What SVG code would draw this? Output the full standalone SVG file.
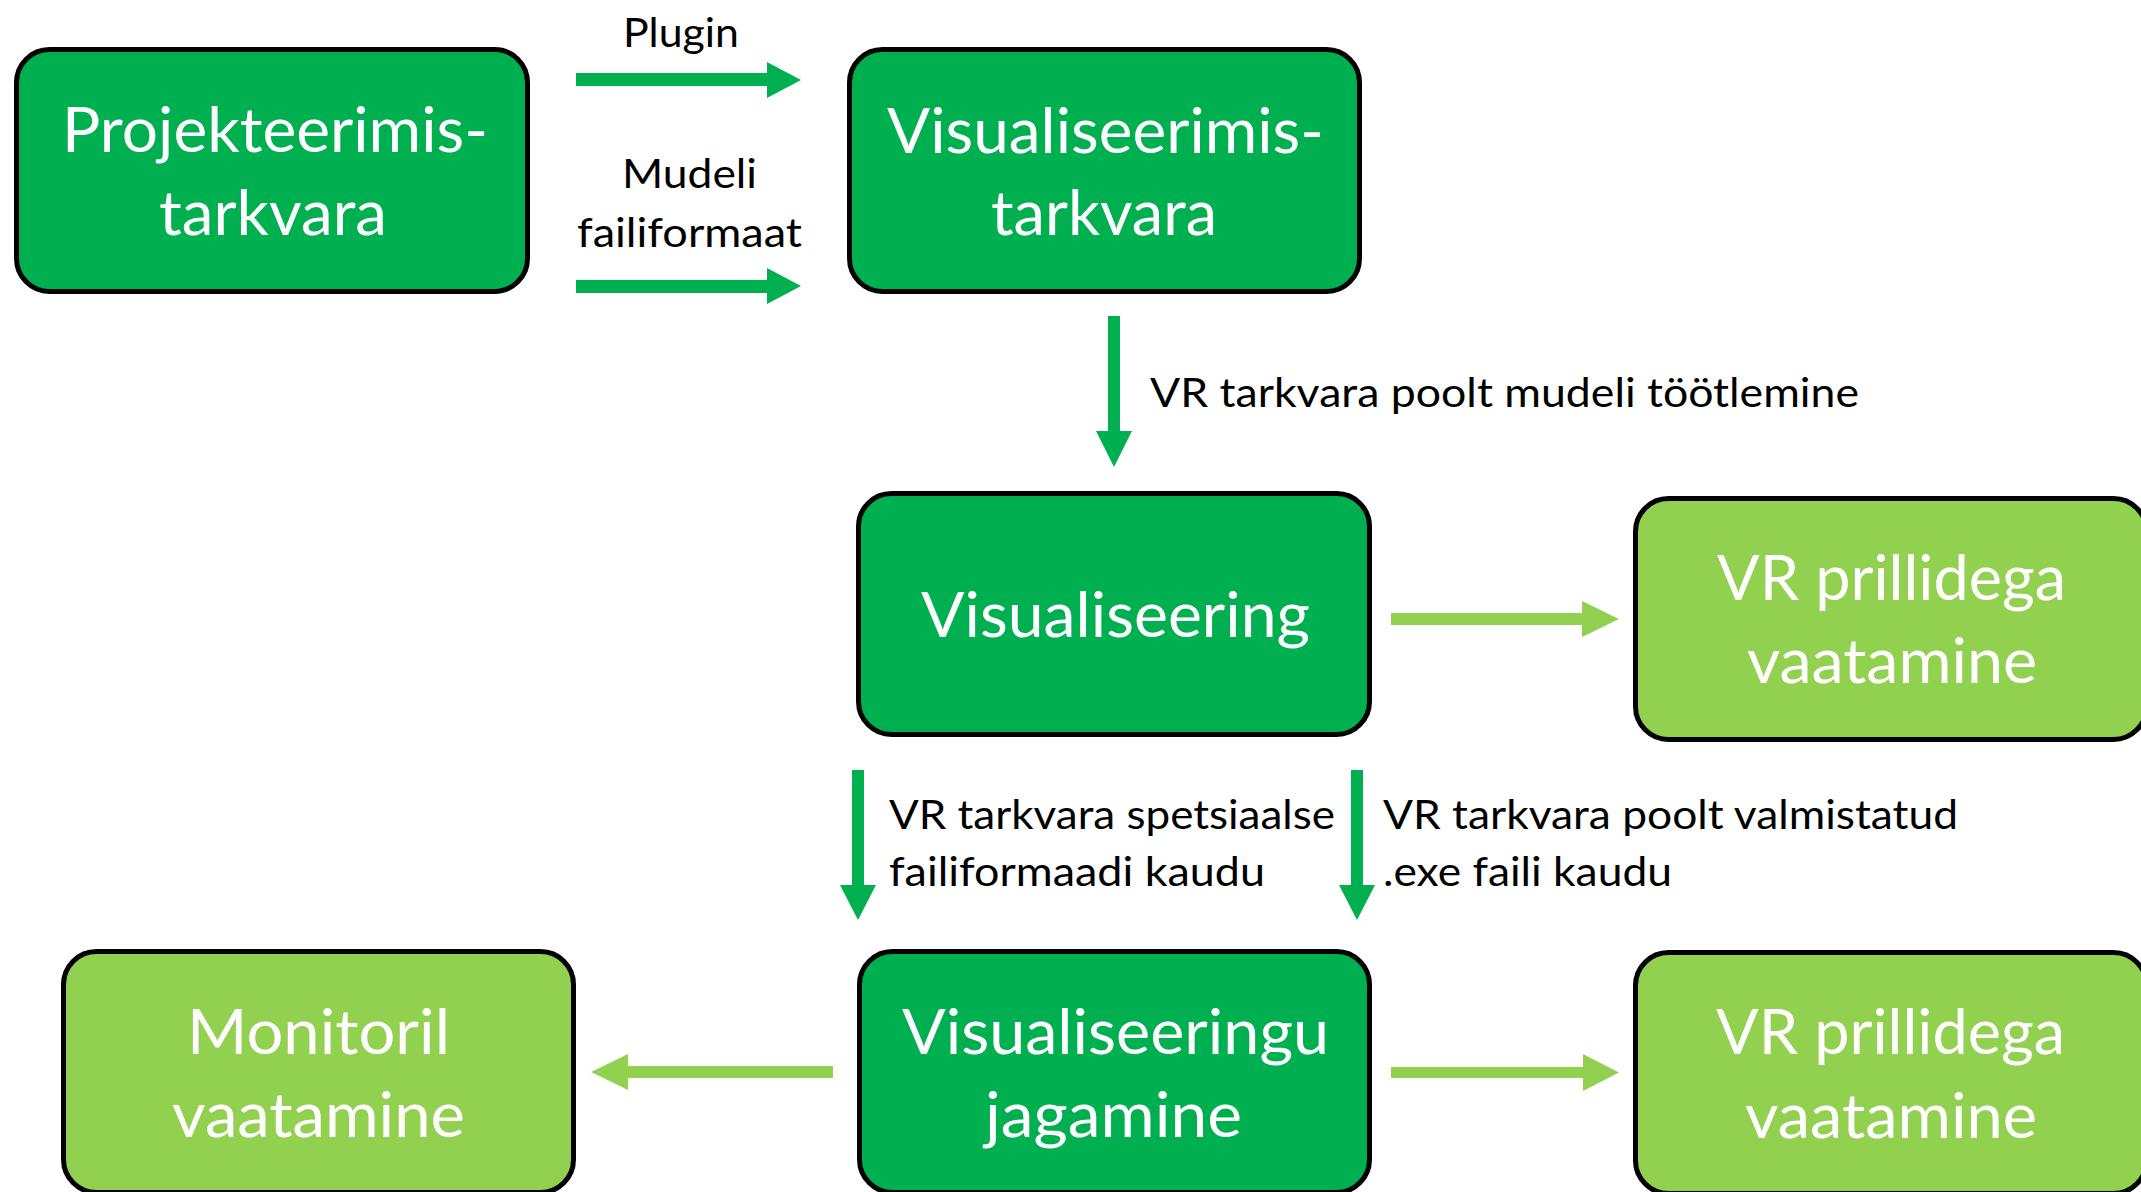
<svg xmlns="http://www.w3.org/2000/svg" width="2141" height="1192" viewBox="0 0 2141 1192">
<style>
.box{stroke:#000;stroke-width:5}
.dark{fill:#00B050}
.light{fill:#92D050}
.t{font-family:Lato,"Open Sans","Liberation Sans",sans-serif;font-size:61px;fill:#fff}
.l{font-family:Lato,"Open Sans","Liberation Sans",sans-serif;font-size:41px;fill:#000}
.ad{fill:#00B050}
.al{fill:#92D050}
</style>
<rect width="2141" height="1192" fill="#fff"/>
<g id="connectors">
<polygon class="ad" points="576,73 767,73 767,62 801,80 767,98 767,86 576,86"/>
<polygon class="ad" points="576,280 767,280 767,268 801,286 767,304 767,293 576,293"/>
<polygon class="ad" points="1108,316 1120,316 1120,431 1132,431 1114,467 1096,431 1108,431"/>
<polygon class="al" points="1391,613 1582,613 1582,601 1619,619 1582,637 1582,625 1391,625"/>
<polygon class="ad" points="852,770 864,770 864,885 876,885 858,920 840,885 852,885"/>
<polygon class="ad" points="1351,770 1363,770 1363,885 1375,885 1357,920 1339,885 1351,885"/>
<polygon class="al" points="833,1066 628,1066 628,1054 591,1072 628,1090 628,1078 833,1078"/>
<polygon class="al" points="1391,1067 1583,1067 1583,1054 1619,1072.5 1583,1091 1583,1078 1391,1078"/>
<text class="l" x="623" y="47" textLength="116" lengthAdjust="spacingAndGlyphs">Plugin</text>
<text class="l" x="622" y="188" textLength="135" lengthAdjust="spacingAndGlyphs">Mudeli</text>
<text class="l" x="577" y="247" textLength="225" lengthAdjust="spacingAndGlyphs">failiformaat</text>
<text class="l" x="1150" y="407" textLength="709" lengthAdjust="spacingAndGlyphs">VR tarkvara poolt mudeli töötlemine</text>
<text class="l" x="889" y="829" textLength="446" lengthAdjust="spacingAndGlyphs">VR tarkvara spetsiaalse</text>
<text class="l" x="889" y="886" textLength="376" lengthAdjust="spacingAndGlyphs">failiformaadi kaudu</text>
<text class="l" x="1383" y="829" textLength="575" lengthAdjust="spacingAndGlyphs">VR tarkvara poolt valmistatud</text>
<text class="l" x="1383" y="886" textLength="289" lengthAdjust="spacingAndGlyphs">.exe faili kaudu</text>
</g>
<g id="projekteerimis">
<rect class="box dark" x="16.5" y="49.5" width="511" height="242" rx="33"/>
<text class="t" x="62" y="152" textLength="426" lengthAdjust="spacingAndGlyphs">Projekteerimis-</text>
<text class="t" x="159" y="235" textLength="228" lengthAdjust="spacingAndGlyphs">tarkvara</text>
</g>
<g id="visualiseerimis">
<rect class="box dark" x="849.5" y="49.5" width="510" height="242" rx="33"/>
<text class="t" x="887" y="153" textLength="437" lengthAdjust="spacingAndGlyphs">Visualiseerimis-</text>
<text class="t" x="991" y="235" textLength="226" lengthAdjust="spacingAndGlyphs">tarkvara</text>
</g>
<g id="visualiseering">
<rect class="box dark" x="858.5" y="493.5" width="511" height="241" rx="33"/>
<text class="t" x="921" y="637" textLength="389" lengthAdjust="spacingAndGlyphs">Visualiseering</text>
</g>
<g id="vr1">
<rect class="box light" x="1635.5" y="498.5" width="511" height="241" rx="33"/>
<text class="t" x="1717" y="600" textLength="349" lengthAdjust="spacingAndGlyphs">VR prillidega</text>
<text class="t" x="1747" y="683" textLength="290" lengthAdjust="spacingAndGlyphs">vaatamine</text>
</g>
<g id="monitoril">
<rect class="box light" x="63.5" y="951.5" width="510" height="241" rx="33"/>
<text class="t" x="187" y="1054" textLength="263" lengthAdjust="spacingAndGlyphs">Monitoril</text>
<text class="t" x="172" y="1137" textLength="293" lengthAdjust="spacingAndGlyphs">vaatamine</text>
</g>
<g id="jagamine">
<rect class="box dark" x="859.5" y="951.5" width="510" height="241" rx="33"/>
<text class="t" x="902" y="1054" textLength="427" lengthAdjust="spacingAndGlyphs">Visualiseeringu</text>
<text class="t" x="985" y="1137" textLength="257" lengthAdjust="spacingAndGlyphs">jagamine</text>
</g>
<g id="vr2">
<rect class="box light" x="1635.5" y="952.5" width="511" height="241" rx="33"/>
<text class="t" x="1716" y="1054" textLength="349" lengthAdjust="spacingAndGlyphs">VR prillidega</text>
<text class="t" x="1745" y="1138" textLength="292" lengthAdjust="spacingAndGlyphs">vaatamine</text>
</g>
</svg>
